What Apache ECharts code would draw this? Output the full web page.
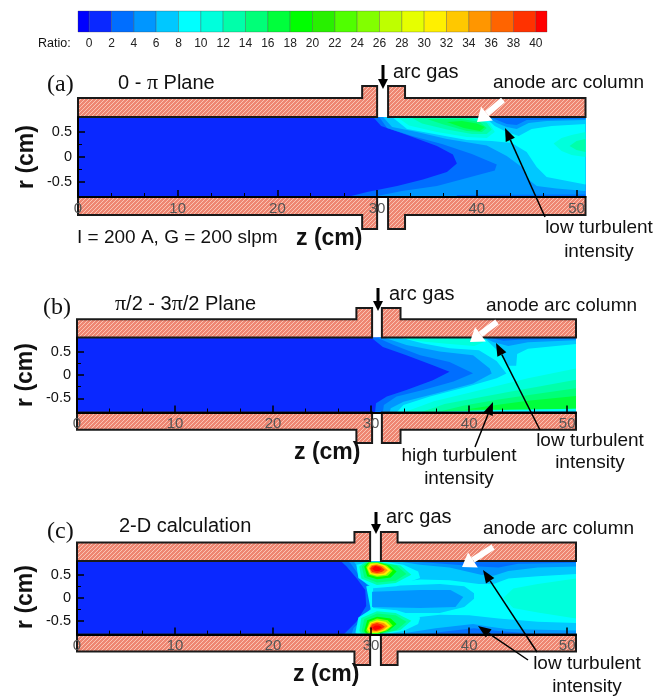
<!DOCTYPE html>
<html><head><meta charset="utf-8">
<style>html,body{margin:0;padding:0;background:#fff}#c{width:668px;height:696px}</style>
<script src="https://cdn.jsdelivr.net/npm/echarts@6/dist/echarts.min.js"></script>
</head><body><div id="c"></div>
<script>
// ---- DATA ----
const ratioTicks=[0,2,4,6,8,10,12,14,16,18,20,22,24,26,28,30,32,34,36,38,40];
const ratioEdges=[-1,0,2,4,6,8,10,12,14,16,18,20,22,24,26,28,30,32,34,36,38,40,41];
const ratioColors=['#0000ff','#0a28ff','#006eff','#0096ff','#00c8ff','#00ffff','#00ffdc','#00ffaa','#00ff78','#00ff3c','#00ff00','#28f000','#50ff00','#82ff00','#beff00','#e6ff00','#fff000','#ffc800','#ff9600','#ff6400','#ff3200','#ff0000'];
const zMajor=[0,10,20,30,40,50];
const zMinor=[3.33,6.67,13.33,16.67,23.33,26.67,33.33,36.67,43.33,46.67];
const rMajor=[0.5,0,-0.5];
const rMinor=[0.25,-0.25];

// contour bands: [ratio, polygon of [z(cm), r(cm)]], painted in order
const bandsA=[
[1,[[0,.8],[50.9,.8],[50.9,-.8],[0,-.8]]],
[3,[[29.6,.8],[30.4,.62],[33,.44],[36,.22],[37.6,.05],[38,-.13],[37,-.3],[34.6,-.45],[32,-.58],[29,-.7],[27,-.8],[50.9,-.8],[50.9,.8]]],
[5,[[30.2,.8],[31,.58],[33.5,.42],[36.5,.26],[39.5,.06],[42,-.15],[41.8,-.27],[39,-.42],[36,-.58],[32.5,-.68],[29.5,-.8],[50.9,-.8],[50.9,.8]]],
[7,[[30.6,.8],[31.5,.6],[34,.5],[37,.36],[41,.23],[43,.02],[44.5,-.2],[45,-.42],[46,-.58],[48,-.63],[50.9,-.68],[50.9,.8]]],
[9,[[31.5,.8],[33,.56],[36,.45],[39,.34],[41.5,.32],[43.5,.28],[45,.1],[46,-.2],[47,-.4],[50.9,-.55],[50.9,.8]]],
[7,[[40.8,.8],[41.8,.62],[43,.5],[44.2,.42],[45.5,.56],[47.5,.62],[50.9,.66],[50.9,.8]]],
[5,[[41,.8],[42,.68],[43,.6],[44,.56],[45.2,.68],[47,.72],[50.9,.74],[50.9,.8]]],
[3,[[41.3,.8],[43,.66],[44,.64],[45,.74],[50.9,.77],[50.9,.8]]],
[11,[[47.7,.27],[48.5,.38],[49.5,.44],[50.9,.5],[50.9,0],[49.5,.04],[48.5,.12]]],
[13,[[49.3,.22],[50,.32],[50.9,.36],[50.9,.1],[50,.14]]],
[11,[[32,.8],[33.2,.63],[36,.5],[39,.4],[41,.38],[41.8,.5],[41.3,.67],[40,.8]]],
[13,[[33.5,.78],[34.5,.67],[37,.55],[39.5,.46],[41,.46],[41.5,.55],[41,.68],[39.5,.78]]],
[15,[[35,.76],[36.5,.66],[39,.52],[40.5,.5],[41,.58],[40.3,.7],[38.5,.76]]],
[17,[[37,.7],[38.7,.58],[40.3,.52],[40.8,.6],[40,.67],[38.5,.72]]],
[3,[[38,-.8],[50.9,-.8],[50.9,-.75],[38,-.76]]]
];
const bandsB=[
[1,[[0,.8],[50.9,.8],[50.9,-.8],[0,-.8]]],
[3,[[30,.8],[31.2,.6],[33.6,.42],[36.3,.21],[38,.07],[36.3,-.11],[33.6,-.32],[31.6,-.46],[30.5,-.6],[30.4,-.8],[50.9,-.8],[50.9,.8]]],
[5,[[30.6,.8],[32.3,.64],[35,.42],[38,.28],[40.4,.04],[38.4,-.14],[35.3,-.32],[32.6,-.46],[31.3,-.64],[31.2,-.8],[50.9,-.8],[50.9,.8]]],
[7,[[31.3,.8],[33.6,.64],[37,.5],[40.4,.42],[42.1,.14],[42.3,.03],[40.4,-.18],[36.7,-.39],[33.3,-.57],[32,-.71],[31.9,-.8],[50.9,-.8],[50.9,.8]]],
[9,[[33,.8],[35.3,.67],[38,.57],[41,.53],[42.8,.3],[43.8,.03],[42.8,-.07],[39.8,-.25],[36,-.46],[33.3,-.64],[32.6,-.8],[50.9,-.8],[50.9,.8]]],
[7,[[41.5,.8],[42.3,.64],[43,.5],[44,.2],[44.8,.2],[44.9,.45],[46,.56],[50.9,.66],[50.9,.8]]],
[5,[[41.5,.8],[42.5,.7],[44,.62],[46,.7],[50.9,.74],[50.9,.8]]],
[3,[[42,.8],[43.5,.73],[45,.75],[50.9,.78],[50.9,.8]]],
[11,[[33.3,-.8],[36.4,-.56],[39.8,-.39],[42.5,-.25],[46,-.07],[50.9,.14],[50.9,-.8]]],
[13,[[35,-.8],[37.5,-.62],[41,-.48],[44,-.36],[47,-.25],[50.9,-.1],[50.9,-.8]]],
[15,[[37,-.78],[39.5,-.65],[43,-.52],[47,-.4],[50.9,-.28],[50.9,-.76]]],
[17,[[39.5,-.74],[42,-.66],[46,-.55],[50.9,-.45],[50.9,-.72],[47,-.73]]],
[9,[[35,-.8],[42,-.75],[50.9,-.72],[50.9,-.8]]],
[7,[[36,-.8],[44,-.78],[50.9,-.76],[50.9,-.8]]],
[11,[[33,.79],[35,.72],[38,.66],[40.5,.62],[41.5,.7],[41,.79]]]
];
const bandsC=[
[1,[[0,.8],[50.9,.8],[50.9,-.8],[0,-.8]]],
[3,[[26.9,.8],[27.5,.68],[28.5,.43],[29.4,.17],[29.5,-.18],[28.5,-.52],[27.5,-.73],[27.2,-.8],[50.9,-.8],[50.9,.8]]],
[5,[[27.6,.8],[27.9,.75],[28.5,.57],[29.4,.32],[30.1,.14],[30.1,-.19],[29.2,-.44],[28.2,-.66],[28,-.8],[50.9,-.8],[50.9,.8]]],
[7,[[28.2,.8],[29.2,.5],[30.2,.28],[30.2,-.32],[29.2,-.55],[28.6,-.77],[28.6,-.8],[50.9,-.8],[50.9,.8]]],
[9,[[29.5,.25],[35,.4],[38,.38],[41,.3],[42.5,.3],[44,.42],[47,.47],[50.9,.52],[50.9,-.55],[47,-.52],[43,-.45],[40,-.38],[37,-.37],[34,-.44],[30,-.3]]],
[7,[[30.2,.26],[33,.27],[37,.3],[39.5,.25],[40.5,.1],[40.5,-.02],[39.5,-.2],[37,-.33],[33,-.33],[30.2,-.33]]],
[5,[[30.1,.13],[35,.17],[38.1,.17],[39.4,.02],[38.6,-.2],[35,-.22],[30.1,-.2]]],
[11,[[43.5,0],[44.5,.2],[47,.3],[50.9,.42],[50.9,-.45],[47,-.32],[44.5,-.22]]],
[5,[[32.5,.8],[35,.72],[38,.66],[41.2,.5],[42.5,.48],[44,.58],[47,.66],[50.9,.68],[50.9,.8]]],
[3,[[33,.8],[36,.76],[41,.68],[43,.66],[45,.74],[50.9,.76],[50.9,.8]]],
[5,[[32.5,-.8],[36.6,-.66],[40.4,-.57],[42.1,-.63],[43.8,-.68],[50.9,-.71],[50.9,-.8]]],
[3,[[35,-.8],[38,-.72],[40.5,-.66],[43,-.72],[46,-.77],[50.9,-.78],[50.9,-.8]]],
[9,[[28.5,.72],[28.7,.43],[30.2,.21],[32.6,.25],[35,.43],[34.8,.57],[33.3,.72],[31.6,.78],[29.9,.78]]],
[13,[[28.8,.68],[29,.42],[30.6,.28],[32.5,.32],[34.1,.5],[33,.7],[31,.77],[29.3,.77]]],
[15,[[29.05,.68],[29.3,.44],[30.6,.33],[32.5,.37],[33.6,.52],[32.6,.7],[31,.77],[29.5,.77]]],
[19,[[29.3,.68],[29.6,.47],[30.6,.405],[32,.44],[32.6,.57],[31.9,.7],[30.8,.77],[29.7,.77]]],
[25,[[29.5,.67],[29.8,.5],[30.6,.45],[31.7,.48],[32.2,.59],[31.6,.7],[30.7,.76],[29.8,.76]]],
[31,[[29.6,.65],[29.9,.52],[30.6,.48],[31.5,.5],[32,.6],[31.4,.7],[30.6,.75],[29.9,.74]]],
[35,[[29.8,.64],[30,.54],[30.6,.51],[31.3,.53],[31.7,.6],[31.2,.69],[30.6,.73],[30,.71]]],
[39,[[29.9,.63],[30.1,.56],[30.6,.54],[31.1,.56],[31.4,.61],[31,.68],[30.5,.71],[30.1,.69]]],
[41,[[30.1,.63],[30.4,.58],[30.8,.58],[31.1,.62],[30.8,.67],[30.4,.69]]],
[9,[[28.4,-.76],[28.7,-.43],[30.2,-.22],[32.6,-.27],[35,-.43],[34.8,-.57],[33.3,-.72],[31.6,-.78],[28.6,-.79]]],
[13,[[28.8,-.72],[29,-.44],[30.6,-.29],[32.5,-.33],[34.1,-.5],[33,-.7],[31,-.78],[29,-.78]]],
[15,[[29.05,-.72],[29.3,-.46],[30.6,-.34],[32.5,-.38],[33.6,-.52],[32.6,-.7],[31,-.78],[29.3,-.78]]],
[19,[[29.3,-.72],[29.6,-.49],[30.6,-.41],[32,-.45],[32.6,-.57],[31.9,-.7],[30.8,-.78],[29.5,-.78]]],
[25,[[29.5,-.71],[29.8,-.52],[30.6,-.45],[31.7,-.49],[32.2,-.6],[31.6,-.71],[30.7,-.77],[29.7,-.77]]],
[31,[[29.6,-.68],[29.9,-.54],[30.6,-.49],[31.5,-.52],[32,-.62],[31.4,-.71],[30.6,-.76],[29.9,-.76]]],
[35,[[29.8,-.67],[30,-.56],[30.6,-.52],[31.3,-.55],[31.7,-.62],[31.2,-.7],[30.6,-.74],[30,-.73]]],
[39,[[29.9,-.65],[30.1,-.58],[30.6,-.55],[31.1,-.58],[31.4,-.63],[31,-.69],[30.5,-.72],[30.1,-.7]]],
[41,[[30.1,-.65],[30.4,-.6],[30.8,-.6],[31.1,-.64],[30.8,-.68],[30.4,-.7]]]
];
// electrode walls: polygons of [z, r]
const wallsA=[
[[0,.8],[30,.8],[30,1.42],[28.5,1.42],[28.5,1.18],[0,1.18]],
[[31.1,.8],[50.9,.8],[50.9,1.18],[32.8,1.18],[32.8,1.42],[31.1,1.42]],
[[0,-.8],[30,-.8],[30,-1.44],[28.5,-1.44],[28.5,-1.16],[0,-1.16]],
[[31.1,-.8],[50.9,-.8],[50.9,-1.16],[32.8,-1.16],[32.8,-1.44],[31.1,-1.44]]];
const wallsB=[
[[0,.8],[30.1,.8],[30.1,1.43],[28.5,1.43],[28.5,1.19],[0,1.19]],
[[31.1,.8],[50.9,.8],[50.9,1.19],[33,1.19],[33,1.43],[31.1,1.43]],
[[0,-.8],[30.1,-.8],[30.1,-1.45],[28.5,-1.45],[28.5,-1.17],[0,-1.17]],
[[31.1,-.8],[50.9,-.8],[50.9,-1.17],[33,-1.17],[33,-1.45],[31.1,-1.45]]];
const wallsC=[
[[0,.8],[29.9,.8],[29.9,1.43],[28.3,1.43],[28.3,1.2],[0,1.2]],
[[31,.8],[50.9,.8],[50.9,1.2],[32.7,1.2],[32.7,1.43],[31,1.43]],
[[0,-.8],[29.9,-.8],[29.9,-1.46],[28.3,-1.46],[28.3,-1.17],[0,-1.17]],
[[31,-.8],[50.9,-.8],[50.9,-1.17],[32.7,-1.17],[32.7,-1.46],[31,-1.46]]];

// ---- CHART ----
const SANS='"Liberation Sans",Arial,sans-serif', SERIF='"Liberation Serif",serif';
const hatch=document.createElement('canvas');hatch.width=hatch.height=4;
(function(){const g=hatch.getContext('2d');g.fillStyle='#ee8672';g.fillRect(0,0,4,4);g.strokeStyle='#fac4b4';g.lineWidth=1;
for(let i=-4;i<=8;i+=4){g.beginPath();g.moveTo(i,4);g.lineTo(i+4,0);g.stroke();}})();
const colorOf=r=>ratioColors[(r+1)/2];

const panels=[
 {bands:bandsA,walls:wallsA,left:78,top:117,width:507.5,height:80},
 {bands:bandsB,walls:wallsB,left:77,top:337.5,width:499,height:75},
 {bands:bandsC,walls:wallsC,left:77,top:561,width:499,height:73.6}
];
const grids=[{left:78,top:11,width:469,height:21}];
const xAxes=[{gridIndex:0,type:'value',min:-1,max:41,z:5,
  axisLine:{show:false},splitLine:{show:false},axisTick:{show:false},
  axisLabel:{customValues:ratioTicks,margin:6,fontSize:12,color:'#222',fontFamily:SANS}}];
const yAxes=[{gridIndex:0,type:'value',min:0,max:1,show:false}];
const series=[{type:'custom',xAxisIndex:0,yAxisIndex:0,z:2,data:ratioColors.map((c,i)=>[i]),
 renderItem(p,api){const i=api.value(0),a=api.coord([ratioEdges[i],1]),b=api.coord([ratioEdges[i+1],0]);
  return {type:'rect',shape:{x:a[0],y:a[1],width:b[0]-a[0],height:b[1]-a[1]},style:{fill:ratioColors[i],stroke:'rgba(60,60,60,.3)',lineWidth:1}};}}];
panels.forEach((P,k)=>{
 const g=k+1; grids.push({left:P.left,top:P.top,width:P.width,height:P.height});
 const xi=xAxes.length, yi=yAxes.length;
 xAxes.push({gridIndex:g,type:'value',position:'bottom',min:0,max:50.9,z:10,
  axisLine:{onZero:false,lineStyle:{color:'#000',width:2}},splitLine:{show:false},
  axisTick:{inside:true,length:7,customValues:zMajor,lineStyle:{color:'#000',width:1.5}},
  axisLabel:{customValues:zMajor,margin:4,fontSize:15,color:'#555',fontFamily:SANS,hideOverlap:false}});
 yAxes.push({gridIndex:g,type:'value',position:'left',min:-.8,max:.8,z:10,
  axisLine:{onZero:false,lineStyle:{color:'#000',width:2}},splitLine:{show:false},
  axisTick:{inside:true,length:7,customValues:rMajor,lineStyle:{color:'#000',width:1.5}},
  axisLabel:{customValues:rMajor,margin:6,fontSize:14.5,color:'#111',fontFamily:SANS}});
 xAxes.push({gridIndex:g,type:'value',position:'bottom',min:0,max:50.9,z:10,
  axisLine:{show:false,onZero:false},splitLine:{show:false},axisLabel:{show:false},
  axisTick:{inside:true,length:4,customValues:zMinor,lineStyle:{color:'#000',width:1}}});
 yAxes.push({gridIndex:g,type:'value',position:'left',min:-.8,max:.8,z:10,
  axisLine:{show:false,onZero:false},splitLine:{show:false},axisLabel:{show:false},
  axisTick:{inside:true,length:4,customValues:rMinor,lineStyle:{color:'#000',width:1}}});
 series.push({type:'custom',xAxisIndex:xi,yAxisIndex:yi,z:2,clip:false,data:P.bands.map((b,i)=>[i]),
  renderItem(p,api){const b=P.bands[api.value(0)];
   return {type:'polygon',shape:{points:b[1].map(q=>api.coord(q))},style:{fill:colorOf(b[0])}};}});
 series.push({type:'custom',xAxisIndex:xi,yAxisIndex:yi,z:3,clip:false,data:P.walls.map((b,i)=>[i]),
  renderItem(p,api){const b=P.walls[api.value(0)];
   return {type:'polygon',shape:{points:b.map(q=>api.coord(q))},style:{fill:{image:hatch,repeat:'repeat'},stroke:'#1a1a1a',lineWidth:2}};}});
});

function T(text,x,y,size,o){o=o||{};return {type:'text',x,y,z:50,rotation:o.rot||0,
 style:{text,fontSize:size,fontFamily:o.family||SANS,fontWeight:o.bold?'bold':'normal',fill:o.color||'#111',
 align:o.align||'left',verticalAlign:'middle',rich:o.rich}};}
function A(x1,y1,x2,y2,w,hl,hw,c){const d=Math.hypot(x2-x1,y2-y1),u=(x2-x1)/d,v=(y2-y1)/d,bx=x2-u*hl,by=y2-v*hl;
 return [{type:'line',z:50,shape:{x1,y1,x2:bx,y2:by},style:{stroke:c,lineWidth:w}},
 {type:'polygon',z:50,shape:{points:[[x2,y2],[bx-v*hw,by+u*hw],[bx+v*hw,by-u*hw]]},style:{fill:c}}];}
const piRich={p:{fontFamily:SERIF,fontSize:22,fill:'#111'},a:{fontFamily:SANS,fontSize:20,fill:'#111'}};
const graphic=[
 T('Ratio:',38,44,12.5),
 T('(a)',47,85,24,{family:SERIF}),
 {...T('{a|0 - }{p|π}{a| Plane}',118,83,20,{rich:piRich})},
 T('arc gas',393,72,20),T('anode arc column',493,83,19),
 T('low turbulent',599,228,19,{align:'center'}),T('intensity',599,252,19,{align:'center'}),
 T('I = 200 A, G = 200 slpm',77,238,19),T('z (cm)',296,239,23,{bold:true}),
 T('r (cm)',27,157,23,{bold:true,rot:Math.PI/2,align:'center'}),
 ...A(383,65,383,89,3,10,5,'#000'),...A(503,100,477,122,6,13,9,'#fff'),...A(545,217,505,128,1.5,13,5,'#000'),

 T('(b)',43,308,24,{family:SERIF}),
 {...T('{p|π}{a|/2 - 3}{p|π}{a|/2 Plane}',115,304,20,{rich:piRich})},
 T('arc gas',389,294,20),T('anode arc column',486,306,19),
 T('low turbulent',590,441,19,{align:'center'}),T('intensity',590,463,19,{align:'center'}),
 T('high turbulent',459,456,19,{align:'center'}),T('intensity',459,479,19,{align:'center'}),
 T('z (cm)',294,453,23,{bold:true}),T('r (cm)',26,375,23,{bold:true,rot:Math.PI/2,align:'center'}),
 ...A(378,288,378,311,3,10,5,'#000'),...A(497,322,470,342,6,13,9,'#fff'),...A(540,430,496,343,1.5,13,5,'#000'),...A(475,447,493,402,1.5,13,5,'#000'),

 T('(c)',47,532,24,{family:SERIF}),T('2-D calculation',119,526,20),
 T('arc gas',386,517,20),T('anode arc column',483,529,19),
 T('low turbulent',587,664,19,{align:'center'}),T('intensity',587,687,19,{align:'center'}),
 T('z (cm)',293,675,23,{bold:true}),T('r (cm)',26,597,23,{bold:true,rot:Math.PI/2,align:'center'}),
 ...A(376,512,376,534,3,10,5,'#000'),...A(493,547,462,567,6,13,9,'#fff'),...A(537,652,483,570,1.5,13,5,'#000'),...A(528,660,478,626,1.5,13,5,'#000')
];
const chart=echarts.init(document.getElementById('c'),null,{renderer:'canvas'});
chart.setOption({animation:false,backgroundColor:'#fff',grid:grids,xAxis:xAxes,yAxis:yAxes,series,graphic});
</script></body></html>
